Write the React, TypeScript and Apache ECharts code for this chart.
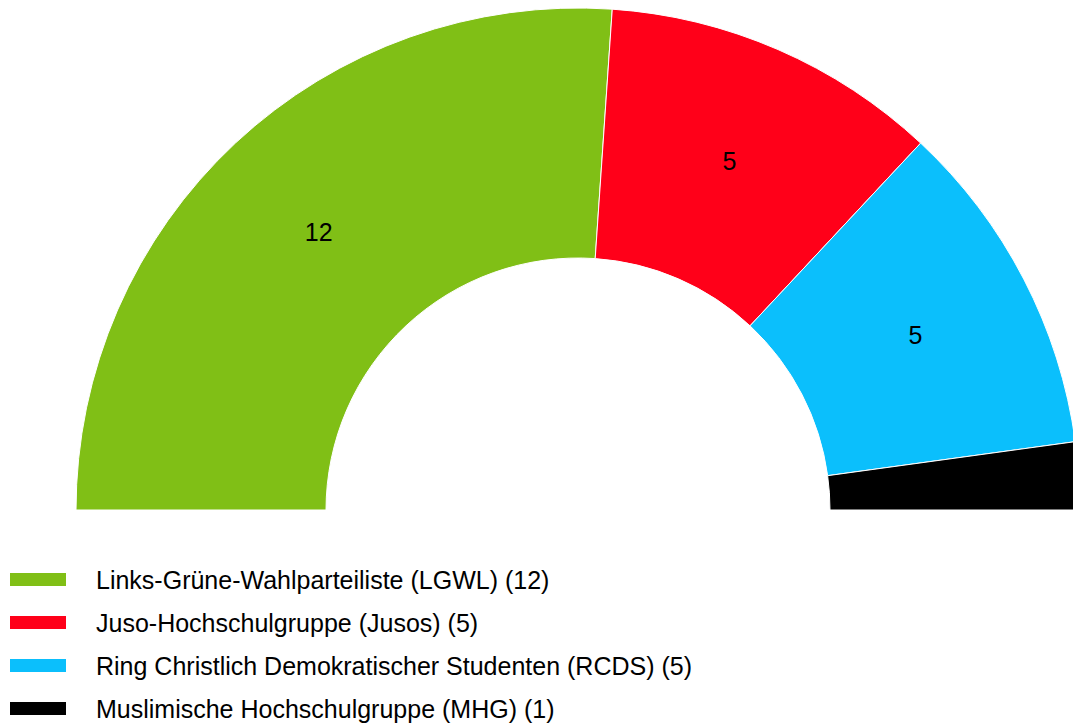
import React, { useEffect, useRef } from "react";
import * as echarts from "echarts";

const parties = [
  "Links-Grüne-Wahlparteiliste (LGWL)",
  "Juso-Hochschulgruppe (Jusos)",
  "Ring Christlich Demokratischer Studenten (RCDS)",
  "Muslimische Hochschulgruppe (MHG)",
];
const seats = [12, 5, 5, 1];
const colors = ["#80BF16", "#FF0019", "#0BBFFC", "#000000"];

export default function App() {
  const ref = useRef<HTMLDivElement>(null);
  useEffect(() => {
    if (!ref.current) return;
    const chart = echarts.init(ref.current, undefined, { renderer: "svg" });
    const total = seats.reduce((a, b) => a + b, 0);
    const names = parties.map((p, i) => `${p} (${seats[i]})`);
    const data: any[] = seats.map((v, i) => ({
      name: names[i],
      value: v,
      itemStyle: { color: colors[i] },
    }));
    data.push({
      name: "__rest",
      value: total,
      itemStyle: { color: "transparent", borderWidth: 0 },
      label: { show: false },
      emphasis: { disabled: true },
      tooltip: { show: false },
      silent: true,
    });
    chart.setOption({
      animation: false,
      legend: {
        orient: "vertical",
        left: 8,
        top: 567,
        padding: 0,
        data: names,
        itemWidth: 58,
        itemHeight: 15,
        itemGap: 18,
        icon: "rect",
        selectedMode: false,
        textStyle: {
          fontFamily: "Liberation Sans, Arial, sans-serif",
          fontSize: 25,
          color: "#000",
          lineHeight: 25,
          padding: [0, 0, 0, 24],
        },
      },
      series: [
        {
          type: "pie",
          center: [578, 510],
          radius: [252, 502],
          startAngle: 180,
          clockwise: true,
          avoidLabelOverlap: false,
          silent: true,
          itemStyle: { borderColor: "#ffffff", borderWidth: 1 },
          label: {
            show: true,
            position: "inside",
            formatter: "{c}",
            color: "#000",
            fontSize: 25,
            fontFamily: "Liberation Sans, Arial, sans-serif",
          },
          labelLine: { show: false },
          data,
        },
      ],
    });
    return () => chart.dispose();
  }, []);
  return <div ref={ref} style={{ width: 1073, height: 724, position: "absolute", left: 0, top: 0 }} />;
}
